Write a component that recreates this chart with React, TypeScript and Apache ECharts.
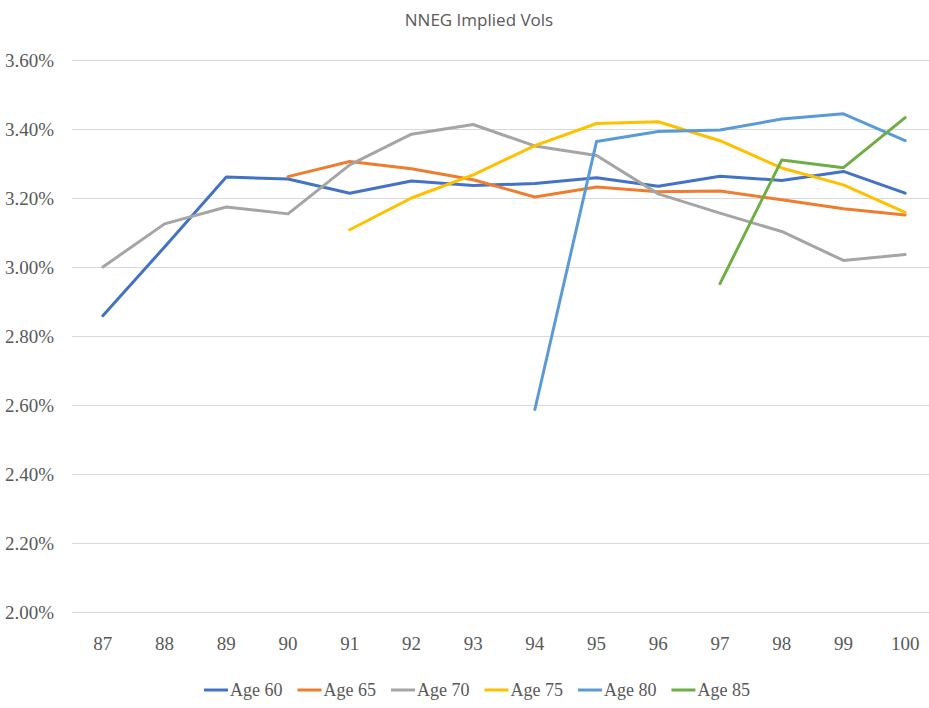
import React, { useEffect, useRef } from "react";
import * as echarts from "echarts";

const categories = ["87", "88", "89", "90", "91", "92", "93", "94", "95", "96", "97", "98", "99", "100"];

const age60 = [2.859, 3.058, 3.261, 3.255, 3.214, 3.249, 3.236, 3.242, 3.259, 3.234, 3.263, 3.251, 3.277, 3.214];
const age65 = [null, null, null, 3.262, 3.306, 3.285, 3.253, 3.203, 3.232, 3.218, 3.220, 3.195, 3.169, 3.151];
const age70 = [3.000, 3.125, 3.174, 3.154, 3.296, 3.385, 3.413, 3.351, 3.323, 3.212, 3.156, 3.103, 3.019, 3.036];
const age75 = [null, null, null, null, 3.108, 3.200, 3.267, 3.352, 3.416, 3.421, 3.366, 3.287, 3.238, 3.158];
const age80 = [null, null, null, null, null, null, null, 2.587, 3.364, 3.393, 3.397, 3.429, 3.444, 3.366];
const age85 = [null, null, null, null, null, null, null, null, null, null, 2.952, 3.310, 3.288, 3.433];

const seriesNames = ["Age 60", "Age 65", "Age 70", "Age 75", "Age 80", "Age 85"];
const seriesData = [age60, age65, age70, age75, age80, age85];
const colors = ["#4472C4", "#ED7D31", "#A5A5A5", "#FFC000", "#5B9BD5", "#70AD47"];

const serif = "Liberation Serif";

export default function App() {
  const ref = useRef<HTMLDivElement>(null);
  useEffect(() => {
    if (!ref.current) return;
    const chart = echarts.init(ref.current, undefined, { renderer: "svg" });
    chart.setOption({
      animation: false,
      backgroundColor: "#ffffff",
      color: colors,
      title: {
        text: "NNEG Implied Vols",
        left: 474,
        top: 6,
        textAlign: "center",
        textStyle: {
          fontFamily: "Open Sans",
          fontSize: 17,
          fontWeight: "normal",
          color: "#595959",
        },
      },
      legend: {
        data: seriesNames,
        left: 204,
        top: 681,
        padding: 0,
        icon: "rect",
        itemWidth: 24,
        itemHeight: 3,
        itemGap: 15,
        textStyle: {
          fontFamily: serif,
          fontSize: 18,
          color: "#595959",
          padding: [0, 0, 0, -3],
        },
      },
      grid: {
        left: 72,
        right: -7,
        top: 60,
        bottom: 96,
        outerBoundsMode: "none",
        containLabel: false,
      },
      xAxis: {
        type: "category",
        data: categories,
        boundaryGap: true,
        axisLine: { show: true, lineStyle: { color: "#D9D9D9", width: 1 } },
        axisTick: { show: false },
        axisLabel: {
          margin: 22,
          fontFamily: serif,
          fontSize: 19,
          color: "#595959",
        },
      },
      yAxis: {
        type: "value",
        min: 2,
        max: 3.6,
        interval: 0.2,
        axisLine: { show: false },
        axisTick: { show: false },
        splitLine: { lineStyle: { color: "#D9D9D9", width: 1 } },
        axisLabel: {
          margin: 18,
          fontFamily: serif,
          fontSize: 19,
          color: "#595959",
          formatter: (v: number) => v.toFixed(2) + "%",
        },
      },
      series: seriesNames.map((name, i) => ({
        name,
        type: "line",
        data: seriesData[i],
        symbol: "none",
        connectNulls: false,
        lineStyle: { width: 3, color: colors[i], cap: "round", join: "round" },
        itemStyle: { color: colors[i] },
      })),
    });
    return () => chart.dispose();
  }, []);
  return (
    <div
      ref={ref}
      style={{ position: "absolute", left: 0, top: 0, width: 929, height: 708 }}
    />
  );
}
